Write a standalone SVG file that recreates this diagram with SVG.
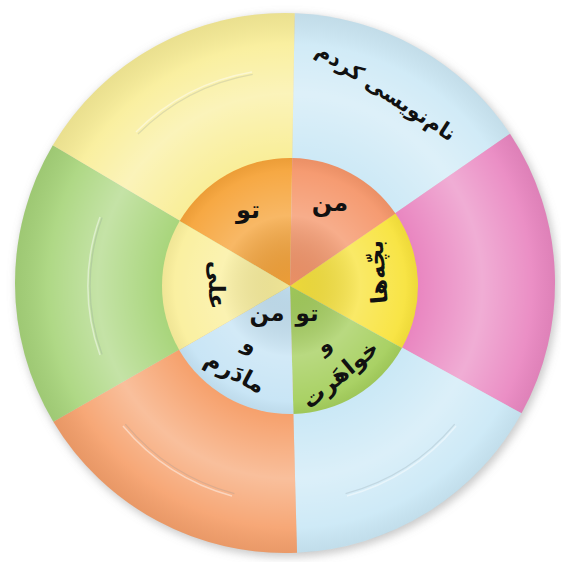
<svg xmlns="http://www.w3.org/2000/svg" width="561" height="562" viewBox="0 0 561 562">
  <style>
    .t { font-family: 'DejaVu Sans', 'Noto Sans', sans-serif; font-weight: bold; fill: #111; text-anchor: middle; dominant-baseline: central; }
    .arc { fill: none; stroke: #7f8f95; stroke-opacity: 0.22; stroke-width: 1.3; }
    .arcw { fill: none; stroke: #ffffff; stroke-opacity: 0.45; stroke-width: 1.5; }
  </style>
  <defs>
    <filter id="shadow" x="-10%" y="-10%" width="120%" height="120%">
      <feGaussianBlur stdDeviation="4"/>
    </filter>
    <radialGradient id="ringShade" gradientUnits="userSpaceOnUse" cx="290" cy="286" r="275">
      <stop offset="0.46" stop-color="#ffffff" stop-opacity="0"/>
      <stop offset="0.70" stop-color="#ffffff" stop-opacity="0.33"/>
      <stop offset="0.88" stop-color="#ffffff" stop-opacity="0.08"/>
      <stop offset="1" stop-color="#000000" stop-opacity="0.06"/>
    </radialGradient>
    <radialGradient id="hubShade" gradientUnits="userSpaceOnUse" cx="290" cy="286" r="128">
      <stop offset="0" stop-color="#000000" stop-opacity="0.04"/>
      <stop offset="0.55" stop-color="#ffffff" stop-opacity="0.22"/>
      <stop offset="0.9" stop-color="#ffffff" stop-opacity="0.05"/>
      <stop offset="1" stop-color="#000000" stop-opacity="0.04"/>
    </radialGradient>
  </defs>

  <!-- soft shadow -->
  <circle cx="287" cy="286" r="271" fill="#8a8a8a" fill-opacity="0.45" filter="url(#shadow)"/>

  <!-- outer ring -->
  <g id="outer-top-right"><path d="M290,286 L294.7,13.2 A270,270 0 0 1 510,133.8 Z" fill="#cde9f6"/></g>
  <g id="outer-right"><path d="M290,286 L510,133.8 A270,270 0 0 1 521.5,413.3 Z" fill="#e985c0"/></g>
  <g id="outer-bottom-right"><path d="M290,286 L521.5,413.3 A270,270 0 0 1 297,552.7 Z" fill="#cae8f6"/></g>
  <g id="outer-bottom-left"><path d="M290,286 L297,552.7 A270,270 0 0 1 53.3,421.7 Z" fill="#f6a06b"/></g>
  <g id="outer-left"><path d="M290,286 L53.3,421.7 A270,270 0 0 1 52.8,145.3 Z" fill="#a8d57b"/></g>
  <g id="outer-top-left"><path d="M290,286 L52.8,145.3 A270,270 0 0 1 294.7,13.2 Z" fill="#f9ee98"/></g>
  <circle cx="285" cy="283" r="270" fill="url(#ringShade)"/>

  <!-- faint arcs in the outer ring -->
  <g id="faint-arcs">
    <path class="arcw" d="M456,426 A217,217 0 0 1 347,496"/>
    <path class="arc" d="M454.7,424.2 A215,215 0 0 1 345.6,493.7"/>
    <path class="arcw" d="M232,496 A217,217 0 0 1 123,426"/>
    <path class="arc" d="M234.4,493.7 A215,215 0 0 1 125.3,424.2"/>
    <path class="arcw" d="M100,355 A202,202 0 0 1 100,217"/>
    <path class="arc" d="M102.1,354.4 A200,200 0 0 1 102.1,217.6"/>
    <path class="arcw" d="M136,132 A217,217 0 0 1 252,72"/>
    <path class="arc" d="M138,134 A215,215 0 0 1 252.7,74.3"/>
  </g>

  <!-- inner ring -->
  <g id="inner-top-left">
    <path d="M290,286 L179.7,221 A128,128 0 0 1 292.2,158 Z" fill="#f6a43a"/>
  </g>
  <g id="inner-top-right">
    <path d="M290,286 L292.2,158 A128,128 0 0 1 395.5,213.5 Z" fill="#f5966a"/>
  </g>
  <g id="inner-right">
    <path d="M290,286 L395.5,213.5 A128,128 0 0 1 401.9,348.1 Z" fill="#f8e33c"/>
  </g>
  <g id="inner-bottom-right">
    <path d="M290,286 L401.9,348.1 A128,128 0 0 1 293.4,414 Z" fill="#a5cf5d"/>
  </g>
  <g id="inner-bottom-left">
    <path d="M290,286 L293.4,414 A128,128 0 0 1 179.2,350 Z" fill="#c6e4f5"/>
  </g>
  <g id="inner-left">
    <path d="M290,286 L179.2,350 A128,128 0 0 1 179.7,221 Z" fill="#faef9c"/>
  </g>
  <circle cx="290" cy="286" r="128" fill="url(#hubShade)"/>

  <!-- labels -->
  <g id="labels">
    <text class="t" x="386" y="92" font-size="21" transform="rotate(33 386 92)" direction="rtl">نام‌نویسی کردم</text>
    <text class="t" x="248" y="210" font-size="24" direction="rtl">تو</text>
    <text class="t" x="330" y="203" font-size="24" direction="rtl">من</text>
    <text class="t" x="377" y="272" font-size="23" transform="rotate(-95 377 272)" direction="rtl">بچّه‌ها</text>
    <text class="t" x="217" y="285" font-size="23" transform="rotate(90 217 285)" direction="rtl">علی</text>
    <text class="t" x="267" y="313" font-size="23" direction="rtl">من</text>
    <text class="t" x="307" y="313" font-size="23" direction="rtl">تو</text>
    <text class="t" x="250" y="345" font-size="21" transform="rotate(28 250 345)" direction="rtl">و</text>
    <text class="t" x="235" y="372" font-size="23" transform="rotate(28 235 372)" direction="rtl">مادَرم</text>
    <text class="t" x="324" y="345" font-size="21" transform="rotate(-35 324 345)" direction="rtl">و</text>
    <text class="t" x="340" y="374" font-size="23" transform="rotate(-40 340 374)" direction="rtl">خواهَرت</text>
  </g>
  <g id="connectors"/>
</svg>
